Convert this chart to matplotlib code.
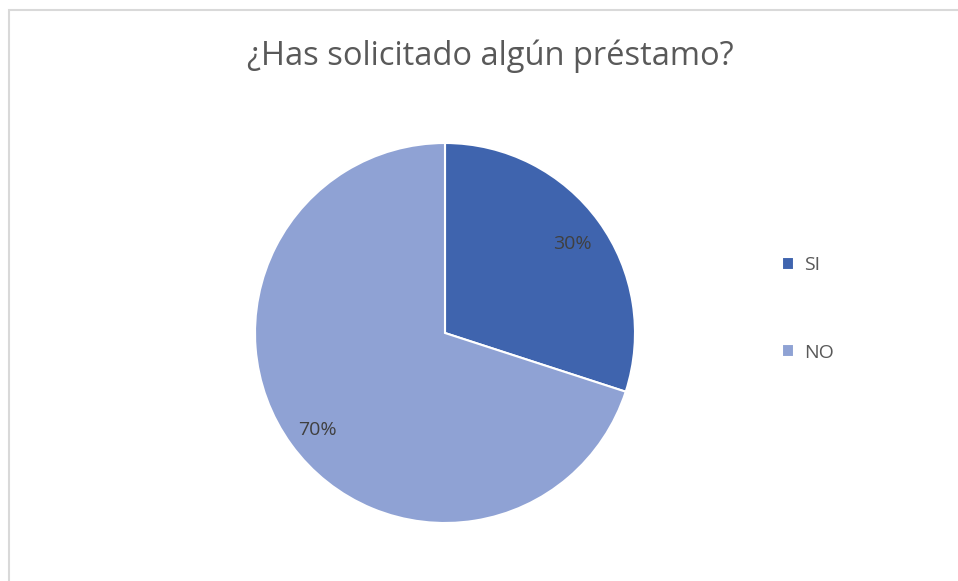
import matplotlib
matplotlib.use("Agg")
import matplotlib.pyplot as plt
from matplotlib.patches import Rectangle

plt.rcParams["font.family"] = ["Open Sans", "DejaVu Sans"]

# data
labels = ["SI", "NO"]
shares = [30, 70]
colors = ["#3F64AE", "#8FA2D4"]
title = "¿Has solicitado algún préstamo?"

W, H = 958, 581
fig = plt.figure(figsize=(W / 100, H / 100), dpi=100)

# light chart-area border (right and bottom edges fall outside the crop)
fig.patches.append(Rectangle((9 / W, -0.1), 1.2, (H - 9.5) / H + 0.1,
                             transform=fig.transFigure, fill=False,
                             edgecolor="#D9D9D9", lw=1.5))

ax = fig.add_axes([255 / W, 58 / H, 380 / W, 380 / H])
wedges, texts, autotexts = ax.pie(
    shares, colors=colors, startangle=90, counterclock=False,
    autopct="%1.0f%%", pctdistance=0.83, radius=1,
    wedgeprops=dict(edgecolor="white", linewidth=1.5),
    textprops=dict(color="#404040", fontsize=14))
# nudge the percentage labels a few pixels down, like the Excel layout
for t in autotexts:
    x, y = t.get_position()
    t.set_position((x, y - 0.022))
ax.set_xlim(-1, 1)
ax.set_ylim(-1, 1)
ax.set_aspect("equal")

fig.text(490 / W, 1 - 56 / H, title, ha="center", va="center",
         fontsize=23.5, color="#595959")

fig.legend(wedges, labels, loc="center left",
           bbox_to_anchor=(764 / W, 1 - 309 / H), frameon=False,
           fontsize=14, labelcolor="#595959", handlelength=0.65,
           handleheight=0.65, handletextpad=0.5, labelspacing=3.55)

fig.savefig("out.png", dpi=100)
